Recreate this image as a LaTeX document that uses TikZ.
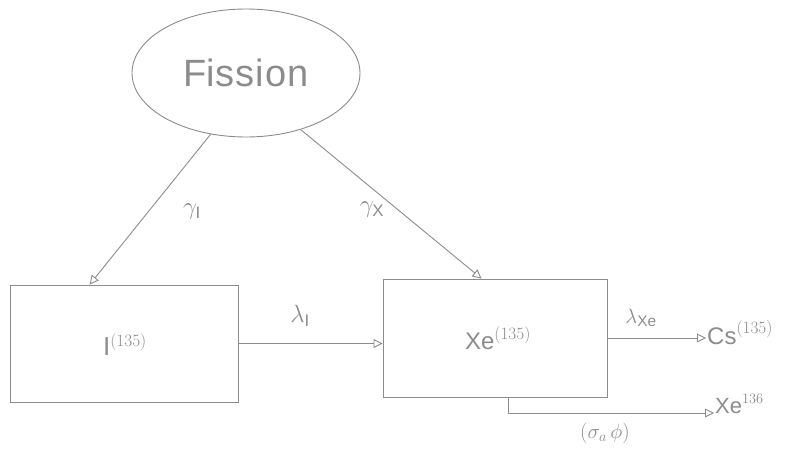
\documentclass[tikz,border=0pt]{standalone}
\usepackage{fontspec}
\setmainfont{Liberation Sans}
\usetikzlibrary{shapes.geometric,arrows.meta,calc}
\definecolor{pencil}{gray}{0.55}
\definecolor{penciltext}{gray}{0.55}
\tikzset{
  sketch/.style={draw=pencil, line width=0.9pt},
  statebox/.style={sketch, rectangle, inner sep=0pt},
  flow/.style={sketch, -{Triangle[open,length=9pt,width=9pt]}},
  lbl/.style={text=penciltext, inner sep=1pt},
}
\begin{document}
\begin{tikzpicture}[x=1pt,y=-1pt]
\useasboundingbox (0,0) rectangle (785,452);
% Fission
\node[sketch, ellipse, minimum width=228pt, minimum height=128pt, inner sep=0pt,
      text=penciltext, font=\fontsize{38}{42}\selectfont] (fission) at (246,73) {Fi\kern1pt s\kern1pt s\kern1pt i\kern1pt o\kern1pt n};
% boxes
\node[statebox, minimum width=228pt, minimum height=117pt] (Ibox) at (124,343.5) {};
\node[statebox, minimum width=224pt, minimum height=118pt] (Xebox) at (495,338) {};
\node[lbl, font=\fontsize{26}{30}\selectfont] (Ilbl) at (125,345) {$\mathrm{I}^{(135)}$};
\node[lbl, font=\fontsize{24}{28}\selectfont] (Xelbl) at (498,338) {$\mathrm{Xe}^{(135)}$};
% products
\node[lbl, anchor=base west, font=\fontsize{24}{28}\selectfont] (Cs) at (706,344) {$\mathrm{Cs}^{(135)}$};
\node[lbl, anchor=base west, font=\fontsize{22}{26}\selectfont] (Xe136) at (714,413) {$\mathrm{Xe}^{136}$};
% coordinates on boxes
\coordinate (Itop) at ($(Ibox.north west)!0.35!(Ibox.north east)$);
\coordinate (Xetop) at ($(Xebox.north west)!0.44!(Xebox.north east)$);
\coordinate (Xebot) at ($(Xebox.south west)!0.56!(Xebox.south east)$);
% connectors
\draw[flow] (fission.240) -- (Itop);
\draw[flow] (fission.314) -- (Xetop);
\draw[flow] (Ibox.east) -- (Ibox.east -| Xebox.west);
\draw[flow] (Xebox.east) -- (Xebox.east -| Cs.base west);
\draw[flow] (Xebot) |- (Xe136.base west);
% labels
\node[lbl, font=\fontsize{24}{28}\selectfont] (gI) at (192,212) {$\gamma_{\mathrm{I}}$};
\node[lbl, font=\fontsize{24}{28}\selectfont] (gX) at (372,210) {$\gamma_{\mathrm{X}}$};
\node[lbl, font=\fontsize{24}{28}\selectfont] (lI) at (300,316) {$\lambda_{\mathrm{I}}$};
\node[lbl, font=\fontsize{22}{26}\selectfont] (lXe) at (641,318) {$\lambda_{\mathrm{Xe}}$};
\node[lbl, font=\fontsize{22}{26}\selectfont] (sphi) at (605,433) {$(\sigma_a\,\phi)$};
\end{tikzpicture}
\end{document}
